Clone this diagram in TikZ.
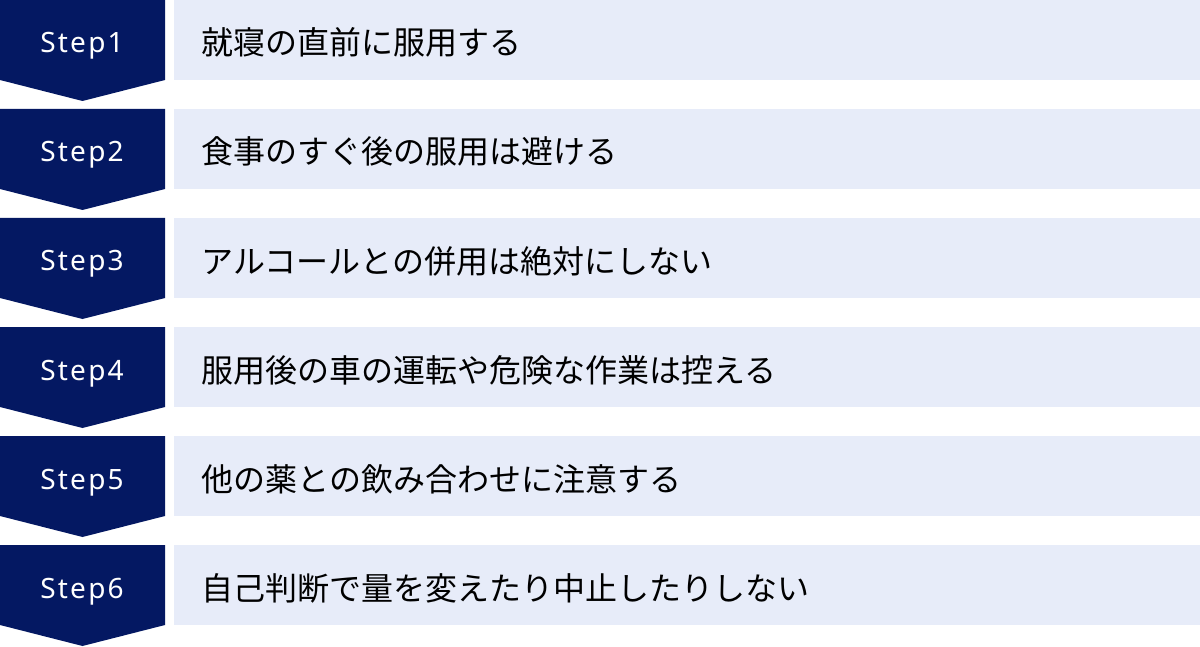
\documentclass[tikz,border=0pt]{standalone}
\usepackage{fontspec}
\setmainfont{Noto Sans}[LetterSpace=8]
\newfontfamily\jpfont{Noto Sans CJK JP}
\definecolor{stepnavy}{RGB}{4,24,98}
\definecolor{itemblue}{RGB}{231,236,249}
\begin{document}
\begin{tikzpicture}[x=1pt,y=-1pt,
        steplabel/.style={anchor=base, text=white, font=\fontsize{28}{32}\selectfont},
        itemlabel/.style={anchor=base west, text=black, font=\jpfont\fontsize{32}{36}\selectfont}]
    \useasboundingbox (0,0) rectangle (1200,647);
    \foreach \i/\txt in {1/就寝の直前に服用する, 2/食事のすぐ後の服用は避ける, 3/アルコールとの併用は絶対にしない, 4/服用後の車の運転や危険な作業は控える, 5/他の薬との飲み合わせに注意する, 6/自己判断で量を変えたり中止したりしない}{
        \pgfmathsetmacro{\top}{(\i-1)*109}
        \fill[stepnavy] (0,\top) -- ++(165,0) -- ++(0,80) -- ++(-82.5,21) -- ++(-82.5,-21) -- cycle;
        \fill[itemblue] (174,\top) rectangle ++(1026,80);
        \node[steplabel] (step\i) at (82,\top+53) {Step\i};
        \node[itemlabel] (item\i) at (198,\top+55) {\txt};
    }
\end{tikzpicture}
\end{document}
